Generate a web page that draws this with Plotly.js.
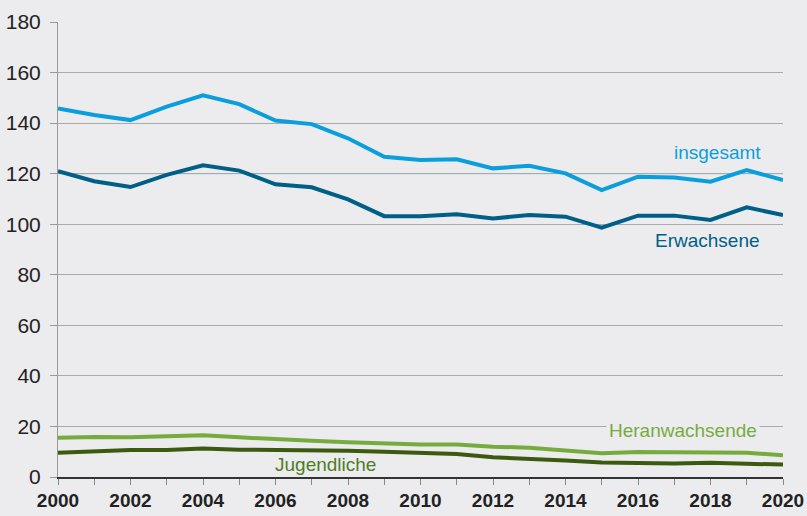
<!DOCTYPE html>
<html>
<head>
<meta charset="utf-8">
<script src="https://cdn.plot.ly/plotly-3.0.1.min.js"></script>
<style>html,body{margin:0;padding:0;background:#ececee;}#chart{width:807px;height:516px;}</style>
</head>
<body>
<div id="chart"></div>
<script>
const years = [2000,2001,2002,2003,2004,2005,2006,2007,2008,2009,2010,2011,2012,2013,2014,2015,2016,2017,2018,2019,2020];
const insgesamt = [145.8,143.2,141.2,146.5,151.0,147.5,141.0,139.6,134.0,126.7,125.4,125.7,122.1,123.1,120.1,113.5,118.8,118.5,116.8,121.4,117.5];
const erwachsene = [121.0,117.0,114.7,119.5,123.3,121.2,115.8,114.6,109.8,103.2,103.2,103.9,102.3,103.6,103.0,98.6,103.4,103.4,101.7,106.7,103.6];
const heranwachsende = [15.5,15.8,15.7,16.1,16.5,15.7,14.9,14.3,13.7,13.3,12.9,12.9,12.0,11.6,10.4,9.4,9.9,9.8,9.5,9.6,8.6];
const jugendliche = [9.6,10.0,10.7,10.7,11.3,10.8,10.7,10.5,10.4,10.0,9.6,9.1,7.8,7.3,6.5,5.7,5.4,5.3,5.6,5.3,4.9];
const seriesNames = ['insgesamt','Erwachsene','Heranwachsende','Jugendliche'];
const yTicks = [0,20,40,60,80,100,120,140,160,180];

const colors = ['#0a9fdc','#005f86','#76ac3e','#3b5a10'];
const data = [insgesamt, erwachsene, heranwachsende, jugendliche].map((v,i)=>({
  x: years, y: v, type:'scatter', mode:'lines', name: seriesNames[i],
  line:{color:colors[i], width:4}, hoverinfo:'skip'
}));

const font = "'Liberation Sans', Arial, Helvetica, sans-serif";
const layout = {
  width:807, height:516,
  margin:{l:58, r:24, t:22, b:39},
  paper_bgcolor:'#ececee', plot_bgcolor:'#ececee',
  showlegend:false,
  font:{family:font, color:'#222'},
  xaxis:{
    range:[2000,2020], tickmode:'linear', tick0:2000, dtick:1, ticklabelstep:2,
    ticks:'outside', ticklen:6, tickcolor:'#888', tickwidth:1,
    showgrid:false, zeroline:false, showline:true, linecolor:'#333', linewidth:1.5,
    tickfont:{family:font, size:19, color:'#222', weight:'bold'}
  },
  yaxis:{
    range:[0,180], tickvals:yTicks, ticktext:yTicks.map(String),
    ticks:'outside', ticklen:7, tickcolor:'#999',
    showgrid:true, gridcolor:'#aaaaaa', gridwidth:1, zeroline:false,
    showline:true, linecolor:'#999', linewidth:1,
    tickfont:{family:font, size:21, color:'#222'}, ticklabelstandoff:5
  },
  shapes:[{type:'line', xref:'paper', yref:'y', x0:0, x1:1, y0:120, y1:120, layer:'between', line:{color:'#8fd0ee', width:1.2}}],
  annotations:[
    {x:2018.18, y:128.2, text:'insgesamt', showarrow:false, font:{family:font,size:19,color:colors[0]}},
    {x:2017.93, y:93.75, text:'Erwachsene', showarrow:false, font:{family:font,size:19,color:colors[1]}},
    {x:2017.24, y:18.2, text:'Heranwachsende', showarrow:false, bgcolor:'#ececee', borderpad:2, font:{family:font,size:19,color:colors[2]}},
    {x:2007.37, y:4.75, text:'Jugendliche', showarrow:false, font:{family:font,size:19,color:'#4f7d23'}}
  ]
};
Plotly.newPlot('chart', data, layout, {staticPlot:true});
</script>
</body>
</html>
